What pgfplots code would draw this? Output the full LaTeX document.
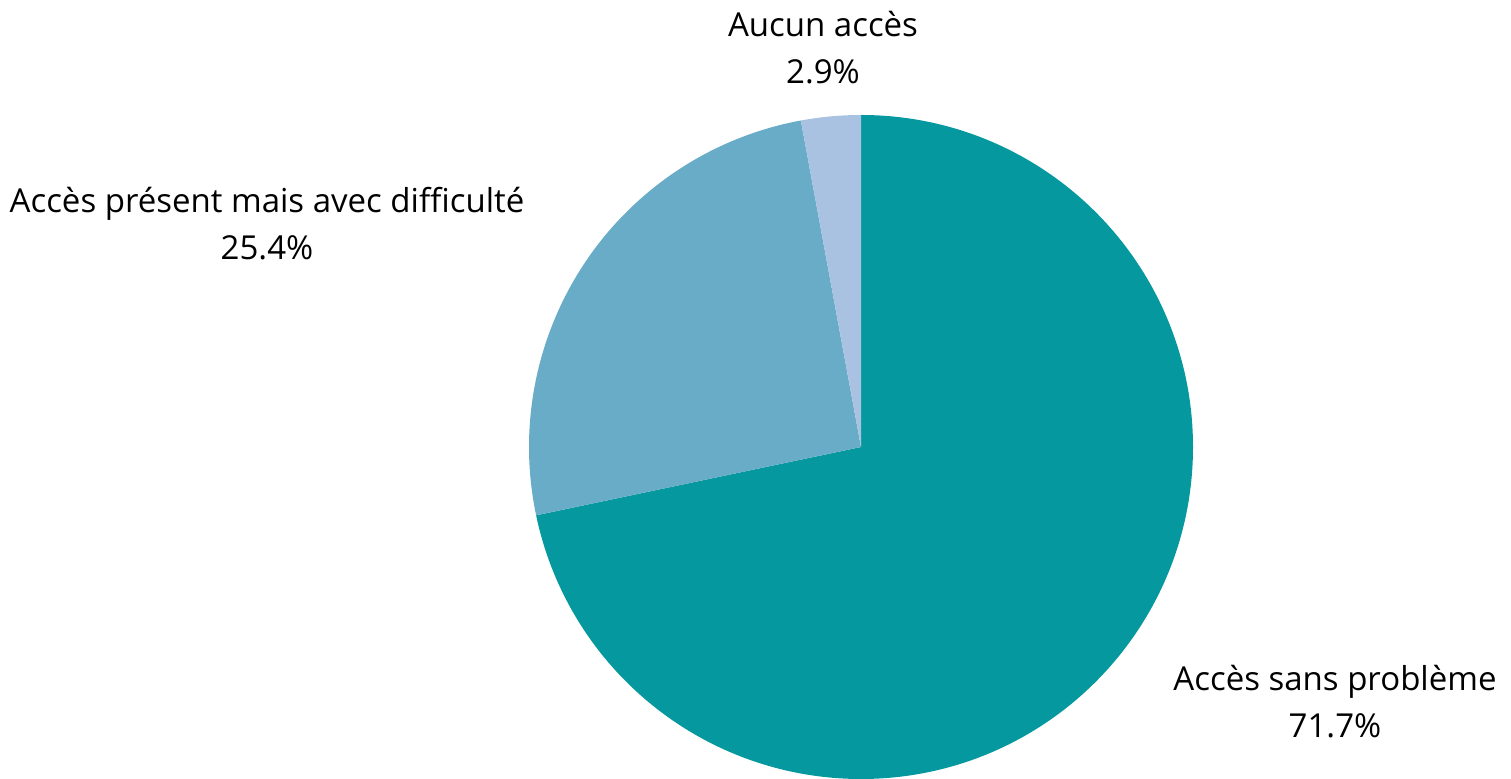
\documentclass[border=0pt]{standalone}
\usepackage{fontspec}
\setmainfont{Open Sans}
\usepackage{pgfplots}
\usepackage{pgfplotstable}
\pgfplotsset{compat=1.18}
\definecolor{cA}{HTML}{05989E}
\definecolor{cB}{HTML}{69ACC8}
\definecolor{cC}{HTML}{AAC2E2}
\pgfplotstableread{
value
71.7
25.4
2.9
}\piedata
\begin{document}
\begin{tikzpicture}
\begin{axis}[
  x=0.5pt, y=0.5pt,
  xmin=0, xmax=1511, ymin=0, ymax=778,
  y dir=reverse,
  hide axis, clip=false,
]
\path (axis cs:0,0) rectangle (axis cs:1511,778);
\pgfplotstablegetelem{0}{value}\of\piedata \let\va\pgfplotsretval
\pgfplotstablegetelem{1}{value}\of\piedata \let\vb\pgfplotsretval
\pgfplotstablegetelem{2}{value}\of\piedata \let\vc\pgfplotsretval
\pgfmathsetmacro{\aA}{90}
\pgfmathsetmacro{\aB}{90-3.6*\va}
\pgfmathsetmacro{\aC}{\aB-3.6*\vb}
\pgfmathsetmacro{\aD}{\aC-3.6*\vc}
\fill[cA] (axis cs:861,447) -- ++(\aA:166pt) arc[start angle=\aA, end angle=\aB, radius=166pt] -- cycle;
\fill[cB] (axis cs:861,447) -- ++(\aB:166pt) arc[start angle=\aB, end angle=\aC, radius=166pt] -- cycle;
\fill[cC] (axis cs:861,447) -- ++(\aC:166pt) arc[start angle=\aC, end angle=\aD, radius=166pt] -- cycle;
\node[font=\fontsize{16.5}{23.5}\selectfont, align=center, inner sep=0pt] at (axis cs:823,48) {Aucun accès\\\vc\%};
\node[font=\fontsize{16.5}{23.5}\selectfont, align=center, inner sep=0pt] at (axis cs:267,224) {Accès présent mais avec difficulté\\\vb\%};
\node[font=\fontsize{16.5}{23.5}\selectfont, align=center, inner sep=0pt] at (axis cs:1335,702) {Accès sans problème\\\va\%};
\end{axis}
\end{tikzpicture}
\end{document}
